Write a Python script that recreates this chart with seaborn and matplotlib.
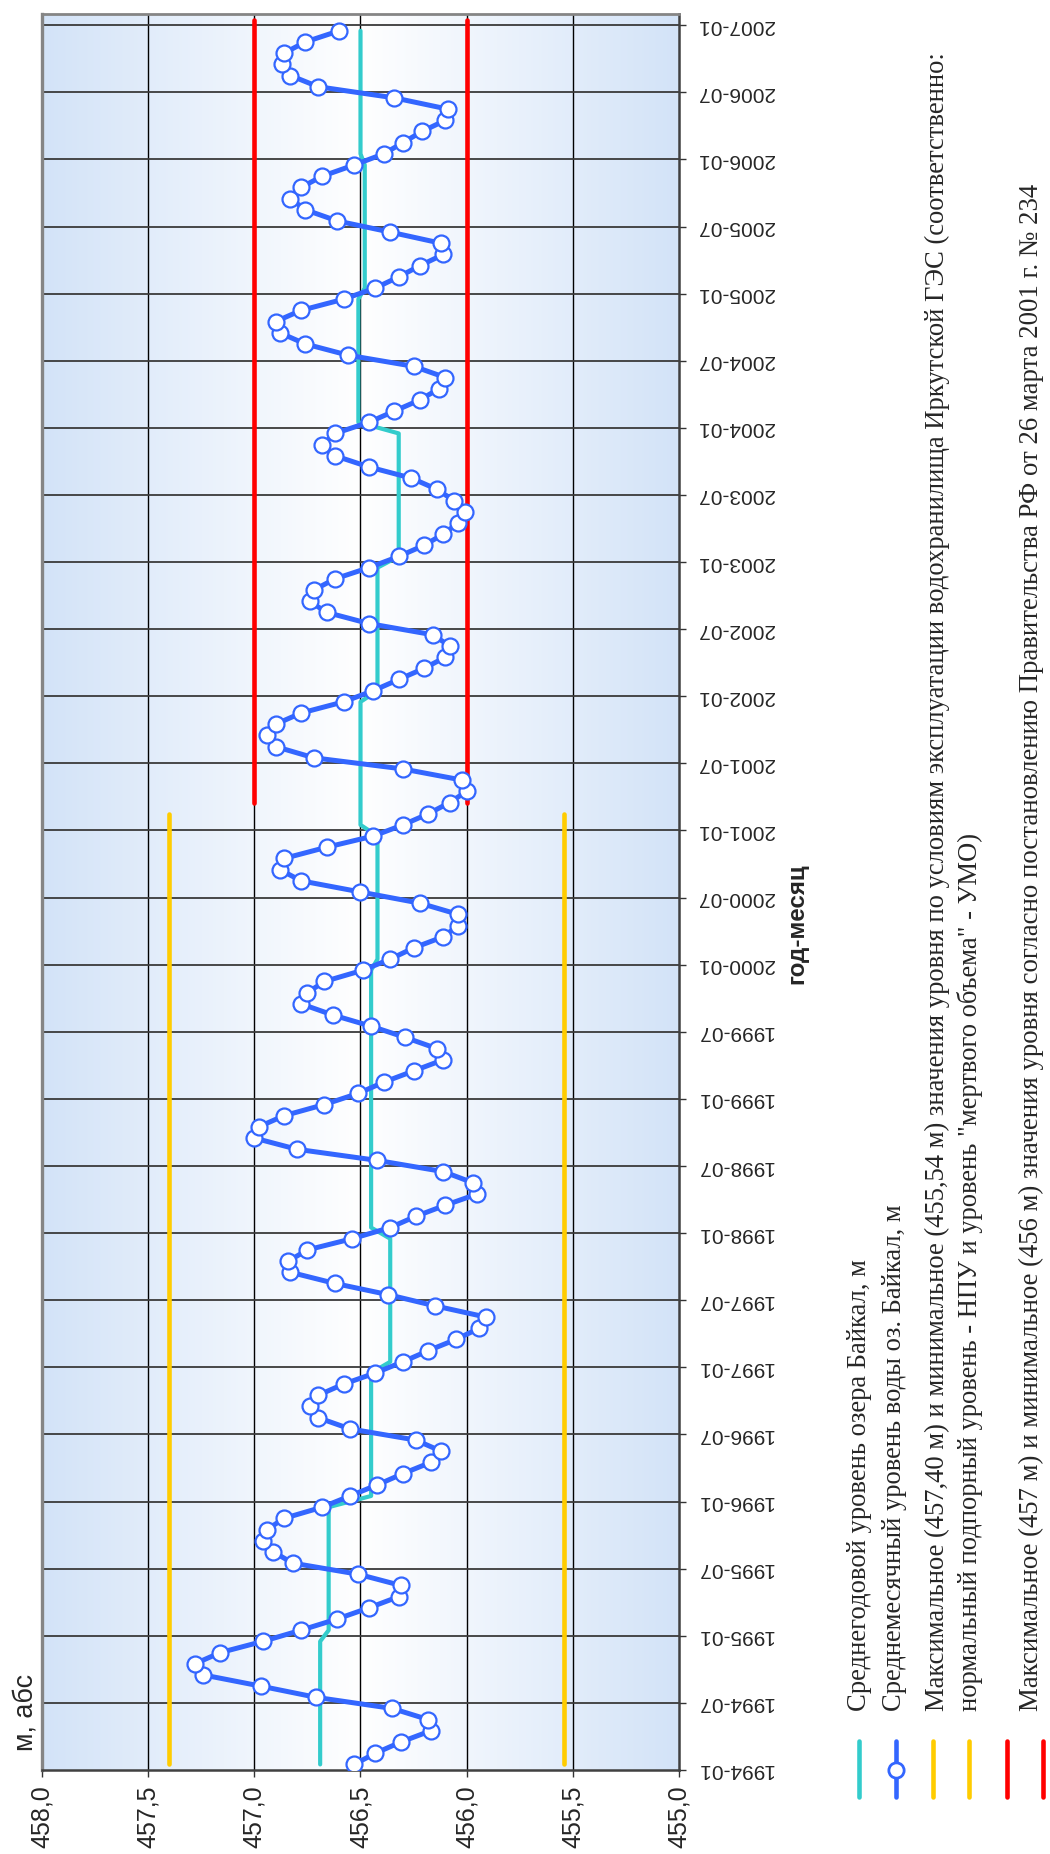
import numpy as np
import pandas as pd
import matplotlib
matplotlib.use("Agg")
import matplotlib.pyplot as plt
import seaborn as sns
from matplotlib.lines import Line2D

W, H, DPI = 1050, 1854, 100

# ---- data -------------------------------------------------------------
years = list(range(1994, 2007))

level_1994 = [456.53, 456.43, 456.31, 456.17, 456.18, 456.35, 456.71, 456.97, 457.24, 457.28, 457.16, 456.96]
level_1995 = [456.78, 456.61, 456.46, 456.32, 456.31, 456.51, 456.82, 456.91, 456.96, 456.94, 456.86, 456.68]
level_1996 = [456.55, 456.42, 456.30, 456.17, 456.12, 456.24, 456.55, 456.70, 456.74, 456.70, 456.58, 456.43]
level_1997 = [456.30, 456.18, 456.05, 455.94, 455.91, 456.15, 456.37, 456.62, 456.83, 456.84, 456.75, 456.54]
level_1998 = [456.36, 456.24, 456.10, 455.95, 455.97, 456.11, 456.42, 456.80, 457.00, 456.98, 456.86, 456.67]
level_1999 = [456.51, 456.39, 456.25, 456.11, 456.14, 456.29, 456.45, 456.63, 456.78, 456.75, 456.67, 456.49]
level_2000 = [456.36, 456.25, 456.11, 456.04, 456.04, 456.22, 456.50, 456.78, 456.88, 456.86, 456.66, 456.44]
level_2001 = [456.30, 456.18, 456.08, 456.00, 456.02, 456.30, 456.72, 456.90, 456.94, 456.90, 456.78, 456.58]
level_2002 = [456.44, 456.32, 456.20, 456.10, 456.08, 456.16, 456.46, 456.66, 456.74, 456.72, 456.62, 456.46]
level_2003 = [456.32, 456.20, 456.11, 456.04, 456.01, 456.06, 456.14, 456.26, 456.46, 456.62, 456.68, 456.62]
level_2004 = [456.46, 456.34, 456.22, 456.13, 456.10, 456.25, 456.56, 456.76, 456.88, 456.90, 456.78, 456.58]
level_2005 = [456.43, 456.32, 456.22, 456.11, 456.12, 456.36, 456.61, 456.76, 456.83, 456.78, 456.68, 456.53]
level_2006 = [456.39, 456.30, 456.21, 456.10, 456.09, 456.34, 456.70, 456.83, 456.87, 456.86, 456.76, 456.60]

annual_mean = [456.69, 456.65, 456.45, 456.36, 456.45, 456.45, 456.42,
               456.50, 456.42, 456.32, 456.51, 456.48, 456.50]

npu_level, umo_level = 457.40, 455.54          # Irkutsk HPP operating limits
npu_period = ("1994-01", "2001-02")
gov_max_level, gov_min_level = 457.0, 456.0     # Government decree No. 234
gov_period = ("2001-03", "2007-01")

value_ticks = [458.0, 457.5, 457.0, 456.5, 456.0, 455.5, 455.0]

legend_texts = [
    "Среднегодовой уровень озера Байкал, м",
    "Среднемесячный уровень воды оз. Байкал, м",
    "Максимальное (457,40 м) и минимальное (455,54 м) значения уровня по условиям "
    "эксплуатации водохранилища Иркутской ГЭС (соответственно:",
    "нормальный подпорный уровень - НПУ и уровень \"мертвого объема\" - УМО)",
    "Максимальное (457 м) и минимальное (456 м) значения уровня согласно "
    "постановлению Правительства РФ от 26 марта 2001 г. № 234",
]

# ---- categories on the date axis -------------------------------------
categories = pd.period_range("1994-01", "2007-01", freq="M").strftime("%Y-%m").tolist()
cat_index = {c: i for i, c in enumerate(categories)}
tick_labels = categories[::6]

monthly = np.concatenate([level_1994, level_1995, level_1996, level_1997, level_1998,
                          level_1999, level_2000, level_2001, level_2002, level_2003,
                          level_2004, level_2005, level_2006])
obs_months = categories[:len(monthly)]
df = pd.DataFrame({
    "month": obs_months,
    "pos": [cat_index[m] + 0.5 for m in obs_months],
    "level": monthly,
    "annual": np.repeat(annual_mean, 12),
})


def span(period, value):
    a, b = cat_index[period[0]], cat_index[period[1]]
    idx = np.arange(a, b + 1)
    return pd.DataFrame({"pos": idx + 0.5, "level": np.full(idx.size, value)})


# ---- styling ----------------------------------------------------------
sns.set_theme(style="white")
plt.rcParams["font.family"] = ["Liberation Sans", "DejaVu Sans"]
SERIF = ["Liberation Serif", "DejaVu Serif"]

CYAN, BLUE, YELLOW, RED = "#33CCCC", "#3366FF", "#FFCC00", "#FF0000"


def px(x, y):
    return x / W, 1 - y / H


fig = plt.figure(figsize=(W / DPI, H / DPI), dpi=DPI)
fig.patch.set_facecolor("white")

L, R, T, B = 42, 679, 14, 1770
ax = fig.add_axes([L / W, 1 - B / H, (R - L) / W, (B - T) / H])

# horizontal gradient background: blue at edges, white in the middle
u = np.linspace(0, 1, 600)
t = np.abs(2 * u - 1)
edge = np.array([0.827, 0.890, 0.972])
grad = 1 - (1 - edge)[None, :] * t[:, None]
ax.imshow(grad[None, :, :], extent=[458, 455, 0, 157], aspect="auto",
          zorder=0, interpolation="bilinear")

ax.set_xlim(458, 455)
ax.set_ylim(0, 157)

ax.grid(False)
for v in value_ticks[1:-1]:
    ax.axvline(v, color="#000000", lw=1.0, zorder=1)
for tl in tick_labels[1:]:
    ax.axhline(cat_index[tl], color="#3a3a3a", lw=1.3, zorder=1)

# reference levels
lw_ref = 3.3
for lvl in (npu_level, umo_level):
    d = span(npu_period, lvl)
    sns.lineplot(data=d, x="level", y="pos", sort=False, estimator=None, ax=ax,
                 color=YELLOW, lw=lw_ref, solid_capstyle="round", zorder=2)
for lvl in (gov_max_level, gov_min_level):
    d = span(gov_period, lvl)
    sns.lineplot(data=d, x="level", y="pos", sort=False, estimator=None, ax=ax,
                 color=RED, lw=lw_ref, solid_capstyle="round", zorder=2)

# annual mean
sns.lineplot(data=df, x="annual", y="pos", sort=False, estimator=None, ax=ax,
             color=CYAN, lw=3.0, solid_capstyle="round", zorder=3)
# monthly mean
sns.lineplot(data=df, x="level", y="pos", sort=False, estimator=None, ax=ax,
             color=BLUE, lw=3.6, marker="o", markersize=11.5,
             markerfacecolor="white", markeredgecolor=BLUE, markeredgewidth=1.6,
             zorder=4)

ax.set_xlabel("")
ax.set_ylabel("")

# axes frame
for side, col, w in (("left", "#858585", 2.4), ("top", "#858585", 2.0),
                     ("right", "#404040", 1.8), ("bottom", "#404040", 1.8)):
    ax.spines[side].set_visible(True)
    ax.spines[side].set_color(col)
    ax.spines[side].set_linewidth(w)

# value axis (bottom)
ax.set_xticks(value_ticks)
ax.set_xticklabels([f"{v:.1f}".replace(".", ",") for v in value_ticks],
                   rotation=90, fontsize=18)
ax.tick_params(axis="x", direction="out", length=5, width=1.0, color="#333333",
               pad=6, bottom=True, top=False)

# date axis (right)
ax.yaxis.tick_right()
ax.set_yticks([cat_index[c] for c in tick_labels])
ax.set_yticklabels(tick_labels, rotation=180, fontsize=15, va="center")
ax.tick_params(axis="y", direction="out", length=5, width=1.0, color="#333333",
               pad=8, right=True, left=False)

# axis titles
ylab = fig.text(*px(32, 1751), "м, абс", rotation=90, rotation_mode="anchor",
                ha="left", va="baseline", fontsize=20)
xlab = fig.text(*px(803, 924), "год-месяц", rotation=90, rotation_mode="anchor",
                ha="center", va="baseline", fontsize=17, fontweight="bold")

# legend keys
line_x = [859, 896, 933, 969, 1007, 1043]
line_c = [CYAN, BLUE, YELLOW, YELLOW, RED, RED]
for x, c in zip(line_x, line_c):
    fig.add_artist(Line2D([x / W, x / W], [1 - 1741 / H, 1 - 1797 / H],
                          transform=fig.transFigure, color=c, lw=3.3,
                          solid_capstyle="round"))
fig.add_artist(Line2D([896 / W], [1 - 1770 / H], transform=fig.transFigure,
                      marker="o", markersize=11, markerfacecolor="white",
                      markeredgecolor=BLUE, markeredgewidth=2.0, linestyle="none"))

# legend texts: baseline x and overall length of each line of text
text_base_x = [866, 901, 944, 977, 1038]
text_len = [453, 508, 1663, 879, 1529]
texts = []
for x, s in zip(text_base_x, legend_texts):
    texts.append(fig.text(*px(x, 1711), s, rotation=90, rotation_mode="anchor",
                          ha="left", va="baseline", fontsize=19, family=SERIF))

# size the vertical texts to their column lengths
renderer = fig.canvas.get_renderer()
for txt, n in list(zip(texts, text_len)) + [(ylab, 77), (xlab, 121)]:
    h = txt.get_window_extent(renderer=renderer).height
    txt.set_fontsize(txt.get_fontsize() * n / h)

fig.savefig("out.png", dpi=DPI)
